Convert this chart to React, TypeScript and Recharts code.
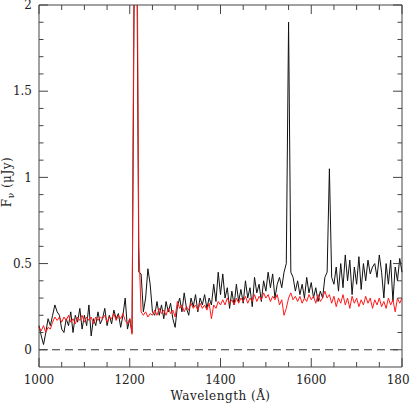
import React from "react";
import {
  LineChart,
  Line,
  XAxis,
  YAxis,
  ReferenceLine,
  ReferenceArea,
} from "recharts";

// Spectrum sampled every 5 Å from 1000 to 1800 Å
const WAVE_START = 1000;
const WAVE_STEP = 5;

// Observed flux (black), µJy
const OBSERVED = [
  0.14, 0.08, 0.03, 0.10, 0.18, 0.14, 0.20, 0.26, 0.22, 0.20,
  0.12, 0.10, 0.18, 0.14, 0.22, 0.10, 0.20, 0.16, 0.24, 0.12,
  0.20, 0.14, 0.26, 0.08, 0.18, 0.14, 0.22, 0.15, 0.18, 0.24,
  0.14, 0.20, 0.15, 0.23, 0.18, 0.21, 0.13, 0.20, 0.30, 0.12,
  0.18, 0.10, 2.20, 2.60, 0.45, 0.44, 0.22, 0.30, 0.47, 0.38,
  0.22, 0.20, 0.28, 0.20, 0.26, 0.18, 0.28, 0.22, 0.27, 0.18,
  0.13, 0.25, 0.30, 0.22, 0.33, 0.24, 0.20, 0.30, 0.25, 0.32,
  0.22, 0.30, 0.26, 0.32, 0.24, 0.30, 0.26, 0.38, 0.28, 0.45,
  0.32, 0.44, 0.30, 0.36, 0.24, 0.34, 0.26, 0.38, 0.28, 0.35,
  0.27, 0.40, 0.30, 0.36, 0.25, 0.42, 0.33, 0.38, 0.28, 0.40,
  0.34, 0.45, 0.36, 0.44, 0.30, 0.38, 0.42, 0.36, 0.45, 0.50,
  1.90, 0.45, 0.42, 0.34, 0.40, 0.32, 0.38, 0.30, 0.42, 0.33,
  0.39, 0.30, 0.36, 0.28, 0.34, 0.30, 0.42, 0.45, 1.05, 0.42,
  0.38, 0.48, 0.34, 0.50, 0.36, 0.55, 0.40, 0.52, 0.32, 0.48,
  0.38, 0.54, 0.35, 0.50, 0.40, 0.52, 0.44, 0.48, 0.50, 0.42,
  0.55, 0.45, 0.30, 0.50, 0.38, 0.52, 0.28, 0.48, 0.40, 0.53,
  0.45,
];

// Composite / model flux (red), µJy
const TEMPLATE = [
  0.13, 0.11, 0.14, 0.10, 0.13, 0.12, 0.16, 0.19, 0.17, 0.19,
  0.16, 0.19, 0.17, 0.20, 0.16, 0.18, 0.15, 0.19, 0.17, 0.20,
  0.16, 0.19, 0.17, 0.19, 0.15, 0.19, 0.17, 0.19, 0.18, 0.20,
  0.16, 0.19, 0.18, 0.21, 0.17, 0.20, 0.18, 0.21, 0.17, 0.15,
  0.18, 0.09, 2.50, 3.00, 0.60, 0.22, 0.20, 0.22, 0.19, 0.21,
  0.20, 0.23, 0.20, 0.24, 0.21, 0.23, 0.20, 0.24, 0.21, 0.23,
  0.19, 0.28, 0.24, 0.26, 0.22, 0.25, 0.23, 0.27, 0.24, 0.26,
  0.23, 0.27, 0.24, 0.26, 0.23, 0.27, 0.18, 0.26, 0.24, 0.28,
  0.26, 0.29, 0.26, 0.30, 0.27, 0.29, 0.26, 0.30, 0.27, 0.30,
  0.28, 0.31, 0.27, 0.30, 0.28, 0.32, 0.28, 0.31, 0.29, 0.33,
  0.30, 0.32, 0.28, 0.31, 0.29, 0.32, 0.26, 0.29, 0.20, 0.24,
  0.30, 0.33, 0.29, 0.31, 0.28, 0.31, 0.27, 0.30, 0.28, 0.32,
  0.29, 0.31, 0.27, 0.32, 0.28, 0.30, 0.34, 0.30, 0.32, 0.27,
  0.31, 0.25, 0.30, 0.27, 0.32, 0.26, 0.30, 0.24, 0.31, 0.27,
  0.30, 0.25, 0.29, 0.26, 0.31, 0.27, 0.30, 0.24, 0.29, 0.26,
  0.30, 0.25, 0.28, 0.24, 0.30, 0.26, 0.29, 0.22, 0.30, 0.27,
  0.30,
];

const X_TICKS = [
  1000, 1050, 1100, 1150, 1200, 1250, 1300, 1350, 1400, 1450,
  1500, 1550, 1600, 1650, 1700, 1750, 1800,
];
const X_LABELS = [1000, 1200, 1400, 1600, 1800];

const Y_TICKS = [
  0, 0.1, 0.2, 0.3, 0.4, 0.5, 0.6, 0.7, 0.8, 0.9, 1,
  1.1, 1.2, 1.3, 1.4, 1.5, 1.6, 1.7, 1.8, 1.9, 2,
];
const Y_LABELS = [0, 0.5, 1, 1.5, 2];

const W = 410;
const H = 407;
const LEFT = 39;
const RIGHT = 402;
const TOP = 5;
const BOTTOM = 367;
const AXIS = "#444";
const FONT = "DejaVu Serif";

const labelStyle = (spacing: number) => ({
  fontFamily: FONT,
  fontSize: 12,
  letterSpacing: spacing,
  fill: "#222",
});

const data = OBSERVED.map((f, i) => ({
  w: WAVE_START + i * WAVE_STEP,
  obs: f,
  model: TEMPLATE[i],
}));

function XTick(props: any) {
  const { x, payload } = props;
  const v = payload.value;
  const major = X_LABELS.includes(v);
  const len = major ? 9 : 5;
  return (
    <g>
      <line x1={x} x2={x} y1={BOTTOM} y2={BOTTOM - len} stroke={AXIS} />
      <line x1={x} x2={x} y1={TOP} y2={TOP + len} stroke={AXIS} />
      {major && (
        <text
          x={x}
          y={384}
          textAnchor="middle"
          fontFamily={FONT}
          style={labelStyle(0)}
        >
          {v}
        </text>
      )}
    </g>
  );
}

function YTick(props: any) {
  const { y, payload } = props;
  const v = payload.value;
  const major = Y_LABELS.includes(v);
  const len = major ? 9 : 4.5;
  return (
    <g>
      <line x1={LEFT} x2={LEFT + len} y1={y} y2={y} stroke={AXIS} />
      <line x1={RIGHT} x2={RIGHT - len} y1={y} y2={y} stroke={AXIS} />
      {major && (
        <text
          x={32}
          y={y}
          dy="0.35em"
          textAnchor="end"
          fontFamily={FONT}
          style={labelStyle(0)}
        >
          {v}
        </text>
      )}
    </g>
  );
}

export default function App() {
  return (
    <div
      style={{
        position: "absolute",
        left: 0,
        top: 0,
        width: W,
        height: H,
        background: "#fff",
        fontFamily: FONT,
      }}
    >
      <LineChart
        width={W}
        height={H}
        data={data}
        margin={{ top: TOP, right: W - RIGHT, bottom: 0, left: 0 }}
      >
        <XAxis
          dataKey="w"
          type="number"
          domain={[1000, 1800]}
          ticks={X_TICKS}
          interval={0}
          height={H - BOTTOM}
          axisLine={false}
          tickLine={false}
          tick={(p: any) => <XTick {...p} />}
          label={{
            content: () => (
              <text
                x={(LEFT + RIGHT) / 2}
                y={400}
                textAnchor="middle"
                fontFamily={FONT}
                style={labelStyle(0.5)}
              >
                Wavelength (Å)
              </text>
            ),
          }}
        />
        <YAxis
          type="number"
          domain={[-0.1, 2]}
          allowDataOverflow
          ticks={Y_TICKS}
          interval={0}
          width={LEFT}
          axisLine={false}
          tickLine={false}
          tick={(p: any) => <YTick {...p} />}
          label={{
            content: () => (
              <text
                transform={`translate(11, ${(TOP + BOTTOM) / 2 - 4}) rotate(-90)`}
                textAnchor="middle"
                fontFamily={FONT}
                style={labelStyle(0.5)}
              >
                F
                <tspan fontSize={9} dy={3}>
                  ν
                </tspan>
                <tspan dy={-3}> (μJy)</tspan>
              </text>
            ),
          }}
        />
        <ReferenceArea
          x1={1000}
          x2={1800}
          y1={-0.1}
          y2={2}
          fill="none"
          stroke={AXIS}
          strokeWidth={1}
        />
        <ReferenceLine
          y={0}
          stroke="#333"
          strokeDasharray="8 5"
          strokeWidth={1}
        />
        <Line
          dataKey="obs"
          type="linear"
          stroke="#111"
          strokeWidth={1}
          dot={false}
          isAnimationActive={false}
        />
        <Line
          dataKey="model"
          type="linear"
          stroke="#ff1a1a"
          strokeWidth={1}
          dot={false}
          isAnimationActive={false}
        />
      </LineChart>
    </div>
  );
}
